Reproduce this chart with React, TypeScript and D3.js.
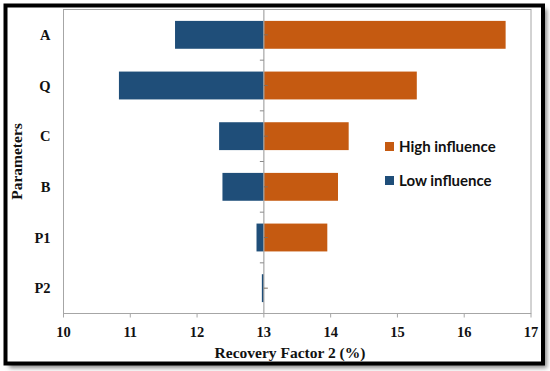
import React from "react";
import * as d3 from "d3";

const categories = ["A", "Q", "C", "B", "P1", "P2"];
const lowValues = [11.67, 10.83, 12.33, 12.38, 12.89, 12.97];
const highValues = [16.62, 15.29, 14.27, 14.11, 13.95, 13.0];
const xTicks = [10, 11, 12, 13, 14, 15, 16, 17];
const baseValue = 13;
const seriesNames = ["High influence", "Low influence"];
const seriesColors = ["#C55A11", "#1F4E79"];

const W = 550;
const H = 371;
const plot = { left: 63.5, right: 531, top: 9.5, bottom: 313.5 };

export default function App() {
  const x = d3.scaleLinear().domain([10, 17]).range([plot.left, plot.right]);
  const y = d3
    .scaleBand<string>()
    .domain(categories)
    .range([plot.top, plot.bottom])
    .paddingInner(0.45)
    .paddingOuter(0.225);
  const yb = d3.scaleBand<string>().domain(categories).range([plot.top, plot.bottom]);
  const serif = "'Liberation Serif', 'Times New Roman', serif";
  const sans = "Lato, 'Open Sans', sans-serif";
  const x0 = x(baseValue);

  return (
    <svg
      width={W}
      height={H}
      style={{ position: "absolute", left: 0, top: 0, background: "#fff" }}
    >
      <defs>
        <filter id="sh" x="-10%" y="-10%" width="120%" height="120%">
          <feGaussianBlur stdDeviation="2" />
        </filter>
      </defs>
      <rect x={9} y={9} width={538} height={359} fill="#8a8a8a" filter="url(#sh)" />
      <rect x={5.5} y={5.5} width={537.5} height={358} fill="#fff" stroke="#000" strokeWidth={4} />

      {/* plot frame */}
      <rect
        x={plot.left}
        y={plot.top}
        width={plot.right - plot.left}
        height={plot.bottom - plot.top}
        fill="none"
        stroke="#a6a6a6"
        strokeWidth={1}
      />

      {/* bars */}
      {categories.map((c, i) => (
        <g key={c}>
          <rect
            x={x(lowValues[i])}
            y={y(c)}
            width={x0 - x(lowValues[i])}
            height={y.bandwidth()}
            fill={seriesColors[1]}
          />
          <rect
            x={x0}
            y={y(c)}
            width={Math.max(0, x(highValues[i]) - x0)}
            height={y.bandwidth()}
            fill={seriesColors[0]}
          />
        </g>
      ))}

      {/* center axis */}
      <line x1={x0} x2={x0} y1={plot.top} y2={plot.bottom} stroke="#a6a6a6" strokeWidth={1.2} />
      {categories.map((c) => (
        <line
          key={"t" + c}
          x1={x0}
          x2={x0 + 4}
          y1={(yb(c) as number) + yb.bandwidth() / 2}
          y2={(yb(c) as number) + yb.bandwidth() / 2}
          stroke="#7f6f60"
          strokeWidth={1}
        />
      ))}
      {categories.slice(1).map((c) => (
        <line
          key={"b" + c}
          x1={x0 - 4}
          x2={x0}
          y1={yb(c) as number}
          y2={yb(c) as number}
          stroke="#8a8a8a"
          strokeWidth={1}
        />
      ))}

      {/* x ticks */}
      {xTicks.map((t) => (
        <g key={t}>
          <line x1={x(t)} x2={x(t)} y1={plot.bottom} y2={plot.bottom + 4} stroke="#a6a6a6" />
          <text
            x={x(t)}
            y={336.5}
            textAnchor="middle"
            fontFamily={serif}
            fontWeight="bold"
            fontSize={14.5}
            fill="#111"
          >
            {t}
          </text>
        </g>
      ))}

      {/* category labels */}
      {categories.map((c) => (
        <text
          key={"l" + c}
          x={50.5}
          y={(yb(c) as number) + yb.bandwidth() / 2 + 5}
          textAnchor="end"
          fontFamily={serif}
          fontWeight="bold"
          fontSize={14.5}
          fill="#111"
        >
          {c}
        </text>
      ))}

      {/* axis titles */}
      <text
        x={290}
        y={357.5}
        textAnchor="middle"
        fontFamily={serif}
        fontWeight="bold"
        fontSize={15.5}
        fill="#111"
      >
        Recovery Factor 2 (%)
      </text>
      <text
        transform={`translate(22,${(plot.top + plot.bottom) / 2}) rotate(-90)`}
        textAnchor="middle"
        fontFamily={serif}
        fontWeight="bold"
        fontSize={15.5}
        fill="#111"
      >
        Parameters
      </text>

      {/* legend */}
      {seriesNames.map((n, i) => (
        <g key={n} transform={`translate(385,${142 + i * 34})`}>
          <rect x={0} y={0} width={9} height={9} fill={seriesColors[i]} />
          <text x={14} y={10} fontFamily={sans} fontWeight="bold" fontSize={15} fill="#111">
            {n}
          </text>
        </g>
      ))}
    </svg>
  );
}
